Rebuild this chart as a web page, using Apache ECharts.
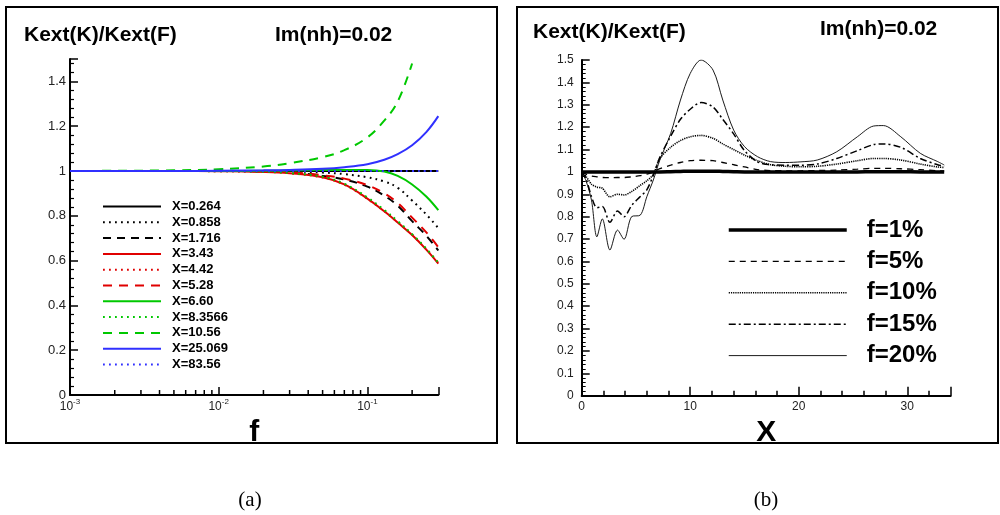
<!DOCTYPE html>
<html><head><meta charset="utf-8">
<script src="https://cdn.jsdelivr.net/npm/echarts@6/dist/echarts.min.js"></script>
<style>html,body{margin:0;padding:0;background:#fff}#c{width:1000px;height:515px}</style>
</head><body><div id="c"></div>
<script>
// ---------- panel (a) data ----------
const fGrid = [0.001, 0.002, 0.005, 0.01, 0.02, 0.03, 0.05, 0.07, 0.1, 0.13, 0.16, 0.2, 0.25, 0.3];
const leftNames = ['X=0.264','X=0.858','X=1.716','X=3.43','X=4.42','X=5.28','X=6.60','X=8.3566','X=10.56','X=25.069','X=83.56'];
const a_X0264  = [1,1,1,1,1,1,1,1,1,1,1,1,1,1];
const a_X0858  = [1,1,1,1,1,0.999,0.993,0.986,0.972,0.953,0.925,0.868,0.805,0.745];
const a_X1716  = [1,1,1,1,0.998,0.994,0.978,0.962,0.93,0.89,0.845,0.776,0.71,0.645];
const a_X343   = [1,1,1,0.999,0.996,0.99,0.972,0.94,0.877,0.82,0.77,0.714,0.648,0.587];
const a_X442   = [1,1,1,0.999,0.996,0.99,0.971,0.939,0.876,0.82,0.771,0.715,0.65,0.59];
const a_X528   = [1,1,1,1,0.998,0.995,0.981,0.966,0.937,0.9,0.857,0.792,0.725,0.66];
const a_X660   = [1,1,1,1,1.001,1.002,1.004,1.005,1.005,0.998,0.978,0.94,0.885,0.825];
const a_X83566 = [1,1,1,0.999,0.997,0.991,0.974,0.943,0.882,0.826,0.776,0.718,0.652,0.59];
const a_X1056  = [1,1.001,1.003,1.008,1.02,1.035,1.062,1.093,1.15,1.225,1.31,1.48,null,null];
const a_X25069 = [1,1,1,1.001,1.003,1.005,1.01,1.017,1.03,1.05,1.075,1.115,1.175,1.245];
const a_X8356  = [1,1,1,1,1,1,1,1,1,1,1,1,1,1];
const fMinorTicks = [0.002,0.003,0.004,0.005,0.006,0.007,0.008,0.009,0.02,0.03,0.04,0.05,0.06,0.07,0.08,0.09,0.2];
const fMajorTickLabels = {0.001:'-3', 0.01:'-2', 0.1:'-1'};

// ---------- panel (b) data ----------
const XGrid = [0,0.4,0.9,1.4,1.9,2.6,3.3,3.9,4.6,5.4,6.0,6.6,7.2,8.2,9.1,10.0,11.0,12.1,13.0,14.0,15.0,16.2,17.4,18.8,20.2,21.7,23.5,25.4,26.9,27.8,29.4,31.2,32.8,33.4];
const rightNames = ['f=1%','f=5%','f=10%','f=15%','f=20%'];
const b_f1  = [1,1,1,1,1,1,1,1,1,1,1,1,1,1.001,1.002,1.003,1.003,1.003,1.002,1.001,1,1,1,1,1,1,1,1,1.001,1.001,1.001,1,1,1];
const b_f5  = [1,0.99,0.982,0.978,0.975,0.974,0.975,0.975,0.978,0.983,0.99,1.0,1.015,1.03,1.042,1.05,1.052,1.05,1.042,1.032,1.022,1.01,1.006,1.005,1.005,1.006,1.008,1.012,1.016,1.016,1.014,1.01,1.005,1.004];
const b_f10 = [1,0.98,0.945,0.932,0.927,0.889,0.9,0.897,0.912,0.94,0.96,0.99,1.06,1.11,1.14,1.157,1.163,1.15,1.125,1.1,1.075,1.05,1.032,1.025,1.023,1.025,1.035,1.05,1.06,1.06,1.053,1.035,1.022,1.02];
const b_f15 = [1,0.97,0.89,0.84,0.845,0.775,0.825,0.8,0.85,0.89,0.92,0.985,1.065,1.16,1.235,1.28,1.31,1.29,1.235,1.17,1.095,1.045,1.032,1.03,1.03,1.035,1.06,1.095,1.122,1.125,1.11,1.06,1.032,1.025];
const b_f20 = [1,0.96,0.874,0.71,0.79,0.651,0.74,0.699,0.8,0.807,0.889,0.964,1.053,1.172,1.321,1.44,1.5,1.455,1.321,1.187,1.113,1.068,1.046,1.042,1.045,1.053,1.09,1.157,1.205,1.207,1.157,1.083,1.046,1.031];

const FONT = 'Liberation Sans, Arial, Helvetica, sans-serif';
const RED = '#e00000', GREEN = '#00c800', BLUE = '#3030ff';

const leftVals = [a_X0264,a_X0858,a_X1716,a_X343,a_X442,a_X528,a_X660,a_X83566,a_X1056,a_X25069,a_X8356];
const leftStyles = [
  {color:'#000', type:'solid', width:2},
  {color:'#000', type:[1.8,4.2], width:2},
  {color:'#000', type:[8,6], width:2},
  {color:RED, type:'solid', width:2},
  {color:RED, type:[1.8,4.2], width:2},
  {color:RED, type:[9,7], width:2},
  {color:GREEN, type:'solid', width:2},
  {color:GREEN, type:[1.8,4.2], width:2},
  {color:GREEN, type:[9,7], width:2},
  {color:BLUE, type:'solid', width:2},
  {color:BLUE, type:[1.8,4.2], width:2}
];
const rightVals = [b_f1,b_f5,b_f10,b_f15,b_f20];
const rightStyles = [
  {color:'#000', type:'solid', width:3.5},
  {color:'#000', type:[6,5], width:1.3},
  {color:'#000', type:[1.2,1], width:1.6},
  {color:'#000', type:[7,3,2,3], width:1.5},
  {color:'#000', type:'solid', width:0.9}
];

const series = [];
leftNames.forEach((n,i)=>{
  series.push({
    name:n, type:'line', xAxisIndex:0, yAxisIndex:0, symbol:'none', smooth:0.4,
    lineStyle:leftStyles[i], itemStyle:{color:leftStyles[i].color},
    data: fGrid.map((f,k)=>[f, leftVals[i][k]]).filter(p=>p[1]!==null),
    z: 2+i
  });
});
rightNames.forEach((n,i)=>{
  series.push({
    name:n, type:'line', xAxisIndex:1, yAxisIndex:1, symbol:'none', smooth:0.3,
    lineStyle:rightStyles[i], itemStyle:{color:'#000'},
    data: XGrid.map((x,k)=>[x, rightVals[i][k]])
  });
});
// minor ticks of the log axis (panel a)
series.push({
  type:'custom', xAxisIndex:0, yAxisIndex:0, silent:true, clip:false,
  renderItem:(params, api)=>{
    const p = api.coord([api.value(0), 0]);
    return {type:'line', shape:{x1:p[0], y1:p[1], x2:p[0], y2:p[1]-5}, style:{stroke:'#000', lineWidth:1.5}};
  },
  data: fMinorTicks.map(f=>[f,0]), z:10
});

const axisLine = {show:true, onZero:false, lineStyle:{color:'#000', width:2}};
const chart = echarts.init(document.getElementById('c'), null, {renderer:'canvas'});
chart.setOption({
  animation:false,
  backgroundColor:'#fff',
  grid:[
    {left:70, top:59, width:368.3, height:336, outerBoundsMode:'none', containLabel:false},
    {left:581.7, top:60, width:369, height:335.7, outerBoundsMode:'none', containLabel:false}
  ],
  xAxis:[
    {type:'log', logBase:10, gridIndex:0, min:0.001, max:0.3,
     axisLine, splitLine:{show:false},
     axisTick:{show:true, inside:true, length:8, lineStyle:{color:'#000', width:1.5}},
     axisLabel:{margin:3, color:'#222', fontFamily:FONT,
       formatter:(v)=>{ for (const k in fMajorTickLabels){ if (Math.abs(v-Number(k))/Number(k)<1e-6) return '{b|10}{s|'+fMajorTickLabels[k]+'}'; } return ''; },
       rich:{b:{fontSize:12, fontFamily:FONT, color:'#222', lineHeight:15, verticalAlign:'bottom'}, s:{fontSize:8, fontFamily:FONT, color:'#222', lineHeight:9, verticalAlign:'top'}}},
     name:'f', nameLocation:'middle', nameGap:12,
     nameTextStyle:{fontSize:30, fontWeight:'bold', fontFamily:FONT, color:'#000'}},
    {type:'value', gridIndex:1, min:0, max:34, interval:10,
     axisLine, splitLine:{show:false},
     axisTick:{show:true, inside:true, length:9, lineStyle:{color:'#000', width:1.5}},
     minorTick:{show:true, splitNumber:5, length:5, lineStyle:{color:'#000', width:1.5}},
     axisLabel:{margin:5, fontSize:12, color:'#222', fontFamily:FONT, formatter:(v)=> (v%10===0? String(v):'')},
     name:'X', nameLocation:'middle', nameGap:12,
     nameTextStyle:{fontSize:30, fontWeight:'bold', fontFamily:FONT, color:'#000'}}
  ],
  yAxis:[
    {type:'value', gridIndex:0, min:0, max:1.5, interval:0.2,
     axisLine, splitLine:{show:false},
     axisTick:{show:true, inside:true, length:8, lineStyle:{color:'#000', width:1.5}},
     minorTick:{show:true, splitNumber:5, length:4, lineStyle:{color:'#000', width:1.2}},
     axisLabel:{margin:4, fontSize:13, color:'#222', fontFamily:FONT, formatter:(v)=> (v>1.45? '' : String(Math.round(v*10)/10))}},
    {type:'value', gridIndex:1, min:0, max:1.5, interval:0.1,
     axisLine, splitLine:{show:false},
     axisTick:{show:true, inside:true, length:8, lineStyle:{color:'#000', width:1.5}},
     minorTick:{show:true, splitNumber:5, length:4, lineStyle:{color:'#000', width:1}},
     axisLabel:{margin:8, fontSize:12, color:'#222', fontFamily:FONT, formatter:(v)=> String(Math.round(v*10)/10)}}
  ],
  legend:[
    {data:leftNames, orient:'vertical', left:97, top:195, itemWidth:58, itemHeight:14, itemGap:2.8,
     itemStyle:{opacity:0, borderWidth:0}, lineStyle:{width:'inherit'},
     textStyle:{fontSize:13, fontWeight:'bold', color:'#000', fontFamily:FONT, padding:[0,0,0,6]}, selectedMode:false},
    {data:rightNames, orient:'vertical', left:722, top:213, itemWidth:118, itemHeight:24, itemGap:7.4,
     itemStyle:{opacity:0, borderWidth:0}, lineStyle:{width:'inherit'},
     textStyle:{fontSize:24, fontWeight:'bold', color:'#000', fontFamily:FONT, padding:[0,0,0,15]}, selectedMode:false}
  ],
  graphic:[
    {type:'rect', shape:{x:6, y:7, width:491, height:436}, style:{fill:'none', stroke:'#000', lineWidth:2}, z:0},
    {type:'rect', shape:{x:517, y:7, width:481, height:436}, style:{fill:'none', stroke:'#000', lineWidth:2}, z:0},
    {type:'text', x:24, y:35, style:{text:'Kext(K)/Kext(F)', font:'bold 21px '+FONT, fill:'#000', verticalAlign:'middle'}},
    {type:'text', x:275, y:35, style:{text:'Im(nh)=0.02', font:'bold 21px '+FONT, fill:'#000', verticalAlign:'middle'}},
    {type:'text', x:533, y:32, style:{text:'Kext(K)/Kext(F)', font:'bold 21px '+FONT, fill:'#000', verticalAlign:'middle'}},
    {type:'text', x:820, y:29, style:{text:'Im(nh)=0.02', font:'bold 21px '+FONT, fill:'#000', verticalAlign:'middle'}},
    {type:'text', x:250, y:500, style:{text:'(a)', font:'21px "Liberation Serif", "DejaVu Serif", serif', fill:'#000', align:'center', verticalAlign:'middle'}},
    {type:'text', x:766, y:500, style:{text:'(b)', font:'21px "Liberation Serif", "DejaVu Serif", serif', fill:'#000', align:'center', verticalAlign:'middle'}}
  ],
  series
});
</script>
</body></html>
